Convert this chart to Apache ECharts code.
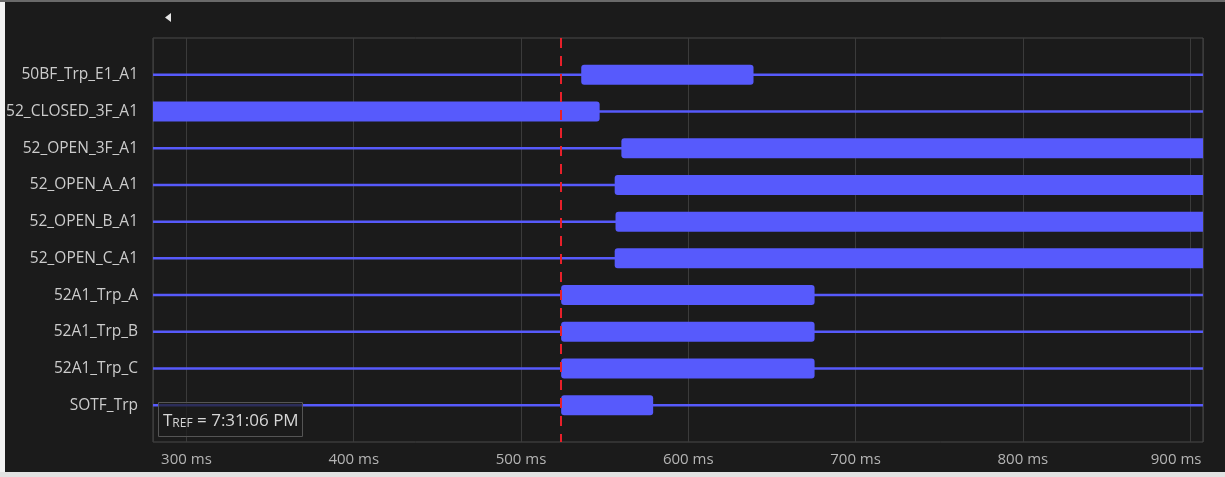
<!DOCTYPE html>
<html>
<head>
<meta charset="utf-8">
<script src="https://cdn.jsdelivr.net/npm/echarts@6/dist/echarts.min.js"></script>
<style>
  html, body { margin: 0; padding: 0; width: 1225px; height: 477px; overflow: hidden; background: #e6e6e6; }
  #frame { position: absolute; left: 0; top: 0; width: 1225px; height: 477px; background: #f2f2f2; }
  #topline { position: absolute; left: 0; top: 0; width: 1225px; height: 2px; background: #6a6a6a; }
  #chart { position: absolute; left: 5px; top: 2px; width: 1220px; height: 470px; background: #1b1b1b; }
  #bottom { position: absolute; left: 0; top: 472px; width: 1225px; height: 5px; background: #e2e2e2; }
</style>
</head>
<body>
<div id="frame"></div>
<div id="topline"></div>
<div id="chart"></div>
<div id="bottom"></div>
<script>
// ---- data ----
const signals = ['50BF_Trp_E1_A1', '52_CLOSED_3F_A1', '52_OPEN_3F_A1', '52_OPEN_A_A1', '52_OPEN_B_A1',
                 '52_OPEN_C_A1', '52A1_Trp_A', '52A1_Trp_B', '52A1_Trp_C', 'SOTF_Trp'];
const onStart = [536, 250, 560, 556, 556.5, 556, 524, 524, 524, 524];   // ms
const onEnd   = [639, 547, 960, 960, 960, 960, 675.5, 675.5, 675.5, 579]; // ms
const tRef = 524;          // ms, red dashed reference line
const tRefLabel = '7:31:06 PM';
const xMin = 280, xMax = 907.7;

const BLUE = '#575afc';
const FONT = 'Open Sans';

const data = signals.map((s, i) => [i, onStart[i], onEnd[i]]);

function renderItem(params, api) {
  const row = api.value(0), s = api.value(1), e = api.value(2);
  const cs = params.coordSys;
  const p1 = api.coord([s, row]);
  const p2 = api.coord([e, row]);
  const y = p1[1];
  const h = 20;
  const raw = { x: p1[0], y: y - h / 2, width: p2[0] - p1[0], height: h };
  const rect = echarts.graphic.clipRectByRect(raw, { x: cs.x, y: cs.y, width: cs.width, height: cs.height });
  const lc = p1[0] < cs.x, rc = p2[0] > cs.x + cs.width;
  const children = [{
    type: 'line',
    shape: { x1: cs.x, y1: y, x2: cs.x + cs.width, y2: y },
    style: { stroke: BLUE, lineWidth: 2.5 }
  }];
  if (rect) {
    children.push({
      type: 'rect',
      shape: Object.assign({}, rect, { r: [lc ? 0 : 3, rc ? 0 : 3, rc ? 0 : 3, lc ? 0 : 3] }),
      style: { fill: BLUE }
    });
  }
  return { type: 'group', children };
}

const chart = echarts.init(document.getElementById('chart'), null, { renderer: 'canvas' });
chart.setOption({
  backgroundColor: '#1b1b1b',
  animation: false,
  grid: {
    left: 148, right: 22, top: 36, bottom: 30,
    containLabel: false, outerBoundsMode: 'none',
    show: true, borderColor: '#4a4a4a', borderWidth: 1, backgroundColor: 'transparent'
  },
  xAxis: {
    type: 'value', min: xMin, max: xMax,
    axisLine: { show: false }, axisTick: { show: false },
    splitLine: { show: true, lineStyle: { color: '#3b3b3b', width: 1 } },
    axisLabel: {
      color: '#b4b4b4', fontFamily: FONT, fontSize: 15, margin: 10,
      formatter: v => {
        if (Math.abs(v % 100) > 1e-6) return '';
        if (v === 900) return '{r|' + v + ' ms}';
        return v + ' ms';
      },
      rich: { r: { color: '#b4b4b4', fontFamily: FONT, fontSize: 15, padding: [0, 28, 0, 0] } }
    }
  },
  yAxis: {
    type: 'value', inverse: true, min: -1, max: 10, interval: 1,
    axisLine: { show: false }, axisTick: { show: false }, splitLine: { show: false },
    axisLabel: {
      color: '#cccccc', fontFamily: FONT, fontSize: 15.5, margin: 15,
      formatter: v => (v >= 0 && v < signals.length) ? signals[v] : ''
    }
  },
  series: [{
    type: 'custom',
    renderItem,
    data,
    encode: { x: [1, 2], y: 0 },
    clip: false,
    markLine: {
      silent: true, symbol: 'none', z: 10,
      label: { show: false },
      lineStyle: { color: '#e8202a', width: 2, type: [10, 8] },
      data: [{ xAxis: tRef }]
    }
  }],
  graphic: [
    {
      type: 'polygon', left: 160, top: 11,
      shape: { points: [[0, 4.5], [6, 0], [6, 9]] },
      style: { fill: '#e6e6e6' }
    },
    {
      type: 'rect', left: 153, top: 400, z: 20,
      shape: { width: 144, height: 34 },
      style: { fill: 'rgba(28,28,28,0.72)', stroke: '#555555', lineWidth: 1 }
    },
    {
      type: 'text', z: 21,
      style: {
        x: 158, y: 419, verticalAlign: 'middle', align: 'left',
        text: '{t|T}{s|REF}{t| = ' + tRefLabel + '}',
        rich: {
          t: { fill: '#d6d6d6', fontFamily: FONT, fontSize: 17 },
          s: { fill: '#d6d6d6', fontFamily: FONT, fontSize: 12, verticalAlign: 'bottom' }
        }
      }
    }
  ]
});
</script>
</body>
</html>
